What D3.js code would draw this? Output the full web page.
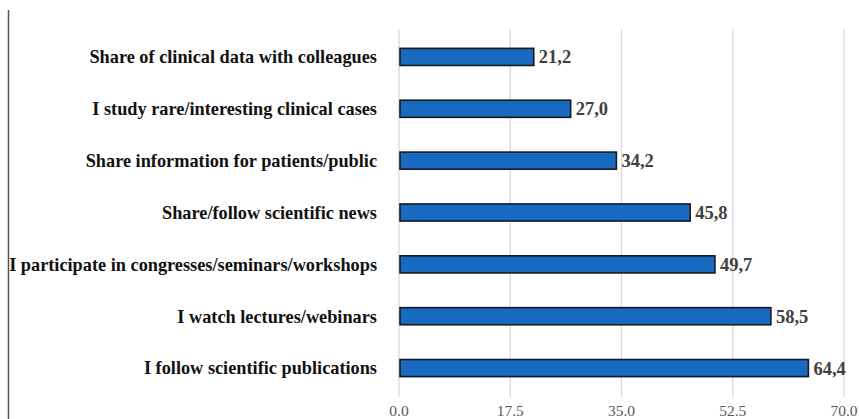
<!DOCTYPE html>
<html><head><meta charset="utf-8">
<script src="https://cdn.jsdelivr.net/npm/d3@7"></script>
<style>body{margin:0;background:#fff}</style>
</head><body>
<svg id="c" width="859" height="419"></svg>
<script>
const categories = ["Share of clinical data with colleagues","I study rare/interesting clinical cases","Share information for patients/public","Share/follow scientific news","I participate in congresses/seminars/workshops","I watch lectures/webinars","I follow scientific publications"];
const values = [21.2, 27.0, 34.2, 45.8, 49.7, 58.5, 64.4];
const valueLabels = ["21,2","27,0","34,2","45,8","49,7","58,5","64,4"];
const tickValues = [0, 17.5, 35, 52.5, 70];
const tickLabels = ["0.0","17.5","35.0","52.5","70.0"];

const svg = d3.select("#c");
const x = d3.scaleLinear().domain([0,70]).range([399, 844]);
const y = d3.scaleBand().domain(categories).range([31, 394]).paddingInner(0.67).paddingOuter(0.335);

svg.append("line").attr("x1",8.5).attr("x2",8.5).attr("y1",10).attr("y2",419).attr("stroke","#555").attr("stroke-width",1.5);

svg.append("g").selectAll("line").data(tickValues).join("line")
  .attr("x1",d=>x(d)).attr("x2",d=>x(d)).attr("y1",29).attr("y2",397)
  .attr("stroke","#d9d9d9").attr("stroke-width",1.3);

svg.append("g").selectAll("text").data(tickValues).join("text")
  .attr("x",d=>x(d)).attr("y",416).attr("text-anchor","middle")
  .attr("font-family","Liberation Serif").attr("font-size",15.5).attr("fill","#595959")
  .text((d,i)=>tickLabels[i]);

svg.append("g").selectAll("rect").data(values).join("rect")
  .attr("x",x(0)+1).attr("y",(d,i)=>y(categories[i]))
  .attr("width",d=>x(d)-x(0)-1).attr("height",y.bandwidth())
  .attr("fill","#1769c2").attr("stroke","#1a1a1a").attr("stroke-width",1.6);

svg.append("g").selectAll("text").data(categories).join("text")
  .attr("x",377).attr("y",d=>y(d)+y.bandwidth()/2).attr("dy","0.35em").attr("text-anchor","end")
  .attr("font-family","Liberation Serif").attr("font-weight","bold").attr("font-size",18.3).attr("fill","#111")
  .text(d=>d);

svg.append("g").selectAll("text").data(values).join("text")
  .attr("x",d=>x(d)+5).attr("y",(d,i)=>y(categories[i])+y.bandwidth()/2).attr("dy","0.35em")
  .attr("font-family","Liberation Serif").attr("font-weight","bold").attr("font-size",18.5).attr("fill","#404040")
  .text((d,i)=>valueLabels[i]);
</script>
</body></html>
